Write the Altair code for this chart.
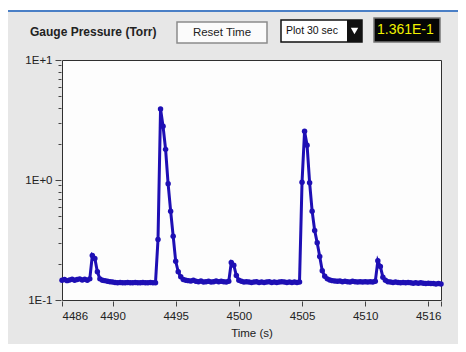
import altair as alt
import pandas as pd

# ---- data -----------------------------------------------------------------
t_start = 4486.0
t_step = 0.2  # sampling interval (s)

pressure_torr = [
    # 4486.0 - 4488.2
    0.146, 0.148, 0.145, 0.147, 0.149, 0.146, 0.148, 0.150, 0.147, 0.149, 0.146, 0.150,
    # small peak ~4488.4
    0.235, 0.222, 0.172, 0.150,
    # 4489.2 - 4493.4
    0.146, 0.145, 0.143, 0.142, 0.141, 0.140, 0.139, 0.140, 0.139, 0.139, 0.140, 0.139,
    0.139, 0.140, 0.139, 0.139, 0.140, 0.139, 0.139, 0.140, 0.139, 0.139,
    # large peak ~4493.8
    0.32, 3.9, 2.8, 1.8, 0.93, 0.55, 0.34, 0.21, 0.172, 0.156, 0.148, 0.146,
    # 4496.0 - 4499.2
    0.145, 0.144, 0.146, 0.143, 0.142, 0.144, 0.141, 0.142, 0.143, 0.141, 0.142, 0.144,
    0.142, 0.143, 0.142, 0.141, 0.143,
    # small peak ~4499.4
    0.205, 0.195, 0.160, 0.146, 0.143, 0.141,
    # 4500.6 - 4504.8
    0.142, 0.141, 0.140, 0.141, 0.142, 0.140, 0.141, 0.140, 0.141, 0.142, 0.140, 0.141,
    0.140, 0.141, 0.142, 0.141, 0.140, 0.141, 0.140, 0.141, 0.140, 0.141,
    # large peak ~4505.2
    0.96, 2.55, 1.95, 0.95, 0.55, 0.38, 0.30, 0.23, 0.175, 0.158, 0.150, 0.147,
    # 4507.4 - 4510.8
    0.145, 0.144, 0.143, 0.144, 0.142, 0.143, 0.142, 0.141, 0.143, 0.142, 0.141, 0.142,
    0.141, 0.142, 0.141, 0.142, 0.141, 0.143,
    # small peak ~4511.0
    0.212, 0.190, 0.155, 0.146,
    # 4511.8 - 4516.0
    0.142, 0.141, 0.140, 0.141, 0.140, 0.139, 0.140, 0.139, 0.140, 0.139, 0.138, 0.139,
    0.138, 0.139, 0.138, 0.137, 0.138, 0.137, 0.137, 0.136, 0.137, 0.1361,
]
time_s = [round(t_start + t_step * i, 1) for i in range(len(pressure_torr))]

x_tick_values = [4486, 4490, 4495, 4500, 4505, 4510, 4515, 4516]
y_tick_values = [0.1, 0.2, 0.3, 0.4, 0.5, 0.6, 0.7, 0.8, 0.9,
                 1, 2, 3, 4, 5, 6, 7, 8, 9, 10]

title_text = "Gauge Pressure (Torr)"
button_text = "Reset Time"
dropdown_text = "Plot 30 sec"
display_text = "1.361E-1"

df = pd.DataFrame({"time": time_s, "pressure": pressure_torr})
one = pd.DataFrame({"a": [0]})

FONT = "Liberation Sans Narrow, Liberation Sans, Arial"
BLUE = "#1e0fb4"

x_enc = alt.X(
    "time:Q",
    scale=alt.Scale(domain=[4486, 4516], nice=False, zero=False),
    axis=alt.Axis(
        values=x_tick_values,
        format="d",
        labelExpr="datum.value == 4515 ? '' : datum.label",
        title="Time (s)",
        titleFontWeight="normal",
        titleFontSize=11.5,
        titleFont=FONT,
        titleColor="#222",
        titlePadding=6,
        labelFont=FONT,
        labelFontSize=11.5,
        labelColor="#222",
        labelPadding=4,
        labelOverlap=False,
        grid=False,
        domain=False,
        tickColor="#444",
        tickSize=5,
        offset=1,
    ),
)
y_enc = alt.Y(
    "pressure:Q",
    scale=alt.Scale(type="log", domain=[0.1, 10], nice=False),
    axis=alt.Axis(
        values=y_tick_values,
        labelExpr="datum.value == 10 ? '1E+1' : (datum.value == 1 ? '1E+0' : (datum.value == 0.1 ? '1E-1' : ''))",
        title=None,
        labelFont=FONT,
        labelFontSize=11.5,
        labelColor="#222",
        labelPadding=3,
        labelOverlap=False,
        grid=False,
        domain=False,
        tickColor="#444",
        tickSize={"condition": {"test": "datum.value == 10 || datum.value == 1 || datum.value == 0.1", "value": 6}, "value": 3},
        offset=1,
    ),
)

line = alt.Chart(df).mark_line(color=BLUE, strokeWidth=3).encode(x=x_enc, y=y_enc)
pts = alt.Chart(df).mark_circle(color=BLUE, size=30, opacity=1).encode(x="time:Q", y="pressure:Q")

# ---- panel decorations (front panel widgets) ------------------------------
white_top = alt.Chart(one).mark_rect(color="white").encode(
    x=alt.value(-54), x2=alt.value(400), y=alt.value(-52), y2=alt.value(-50))
blue_rule = alt.Chart(one).mark_rule(color="#4a7fc6", strokeWidth=2).encode(
    x=alt.value(-54), x2=alt.value(400), y=alt.value(-49))
title = alt.Chart(one).mark_text(
    text=title_text, font=FONT, fontSize=12, fontWeight="bold", color="#222",
    align="left", baseline="middle").encode(x=alt.value(-32), y=alt.value(-28))

btn = alt.Chart(one).mark_rect(fill="#fbfbfb", stroke="#8c8c8c", strokeWidth=1.5).encode(
    x=alt.value(115), x2=alt.value(205), y=alt.value(-38), y2=alt.value(-17))
btn_txt = alt.Chart(one).mark_text(
    text=button_text, font=FONT, fontSize=11.5, color="#222", align="center",
    baseline="middle").encode(x=alt.value(160), y=alt.value(-27))

dd = alt.Chart(one).mark_rect(fill="white", stroke="#111", strokeWidth=1.5).encode(
    x=alt.value(219), x2=alt.value(300), y=alt.value(-40), y2=alt.value(-18))
dd_black = alt.Chart(one).mark_rect(fill="#111").encode(
    x=alt.value(285), x2=alt.value(300), y=alt.value(-40), y2=alt.value(-18))
dd_tri = alt.Chart(one).mark_point(shape="triangle-down", filled=True, color="white",
                                   size=55, opacity=1).encode(x=alt.value(292.5), y=alt.value(-29))
dd_txt = alt.Chart(one).mark_text(
    text=dropdown_text, font=FONT, fontSize=10.5, color="#111", align="left",
    baseline="middle").encode(x=alt.value(224), y=alt.value(-29))

disp = alt.Chart(one).mark_rect(fill="#050505", stroke="#777", strokeWidth=1.5).encode(
    x=alt.value(312), x2=alt.value(378), y=alt.value(-42), y2=alt.value(-18))
disp_txt = alt.Chart(one).mark_text(
    text=display_text, font=FONT, fontSize=14, color="#f2f200", align="left",
    baseline="middle").encode(x=alt.value(315), y=alt.value(-30))

chart = alt.layer(
    line, pts, white_top, blue_rule, title, btn, btn_txt, dd, dd_black, dd_tri, dd_txt,
    disp, disp_txt,
).properties(
    width=379,
    height=240,
    padding={"left": 54, "top": 52, "right": 17, "bottom": 44},
    autosize=alt.AutoSizeParams(type="none"),
    background="#e7e7e7",
).configure_view(stroke="#303030", strokeWidth=1, fill="#fdfdfd")

chart.save("out.html", embed_options={"renderer": "svg", "actions": False})
